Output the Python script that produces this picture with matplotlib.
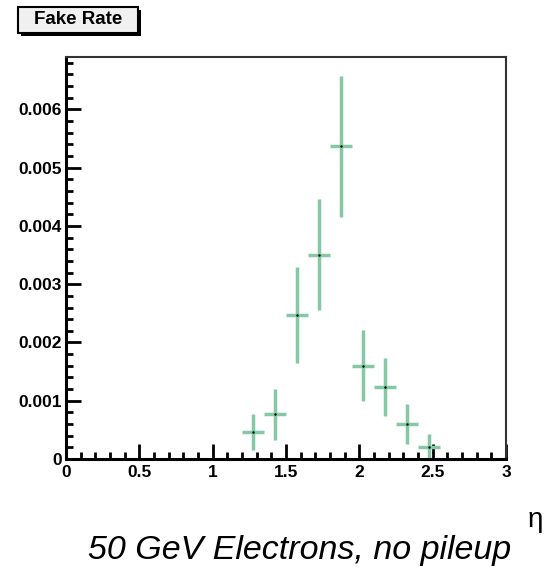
import numpy as np
import matplotlib.pyplot as plt
from matplotlib.patches import Rectangle
from matplotlib.ticker import MultipleLocator, FuncFormatter

# data
eta = [1.275, 1.425, 1.575, 1.725, 1.875, 2.025, 2.175, 2.325, 2.475]
eta_halfwidth = 0.075
fake_rate = [0.00047, 0.00077, 0.00247, 0.00351, 0.00537, 0.00160, 0.00123, 0.00060, 0.00021]
fake_err = [0.00031, 0.00044, 0.00082, 0.00096, 0.00121, 0.00061, 0.00050, 0.00034, 0.00022]

plt.rcParams['font.family'] = ['Liberation Sans', 'DejaVu Sans']

W, H = 545, 567
fig = plt.figure(figsize=(W / 100, H / 100), dpi=100)
ax = fig.add_axes([66 / W, 1 - 459 / H, 440 / W, 402 / H])

ax.errorbar(eta, fake_rate, xerr=eta_halfwidth, yerr=fake_err, fmt='none',
            ecolor='#84c9a4', elinewidth=2.5, capsize=0)
ax.plot(eta, fake_rate, 'k.', markersize=1.5)

ax.set_xlim(0, 3)
ax.set_ylim(0, 0.0069)

ax.xaxis.set_major_locator(MultipleLocator(0.5))
ax.xaxis.set_minor_locator(MultipleLocator(0.1))
ax.yaxis.set_major_locator(MultipleLocator(0.001))
ax.yaxis.set_minor_locator(MultipleLocator(0.0002))
ax.xaxis.set_major_formatter(FuncFormatter(lambda v, p: '%g' % v))
ax.yaxis.set_major_formatter(FuncFormatter(lambda v, p: '%g' % round(v, 4)))

ax.tick_params(which='both', direction='in', top=False, right=False,
               width=2, color='black', labelsize=12.5)
ax.tick_params(which='major', length=11)
ax.tick_params(axis='y', which='major', pad=3)
ax.tick_params(axis='x', which='major', pad=4)
ax.tick_params(which='minor', length=5)
for lab in ax.get_xticklabels() + ax.get_yticklabels():
    lab.set_fontweight('bold')

for s in ['left', 'bottom']:
    ax.spines[s].set_linewidth(2.2)
    ax.spines[s].set_color('black')
for s in ['top', 'right']:
    ax.spines[s].set_linewidth(1.5)
    ax.spines[s].set_color('#333333')

# title box with drop shadow (ROOT style)
fig.patches.append(Rectangle((21 / W, 1 - 36 / H), 120 / W, 26 / H, transform=fig.transFigure,
                             facecolor='black', edgecolor='none', zorder=1))
fig.patches.append(Rectangle((18 / W, 1 - 33 / H), 120 / W, 26 / H, transform=fig.transFigure,
                             facecolor='#f0f0f0', edgecolor='black', linewidth=1.5, zorder=2))
fig.text(78 / W, 1 - 20 / H, 'Fake Rate', fontsize=13.5, fontweight='bold',
         ha='center', va='center', zorder=3)

fig.text(535 / W, 1 - 520 / H, 'η', fontsize=20, ha='center', va='center')
fig.text(300 / W, 1 - 551 / H, '50 GeV Electrons, no pileup', fontsize=24.5, style='italic',
         ha='center', va='center')

fig.savefig('out.png', dpi=100)
